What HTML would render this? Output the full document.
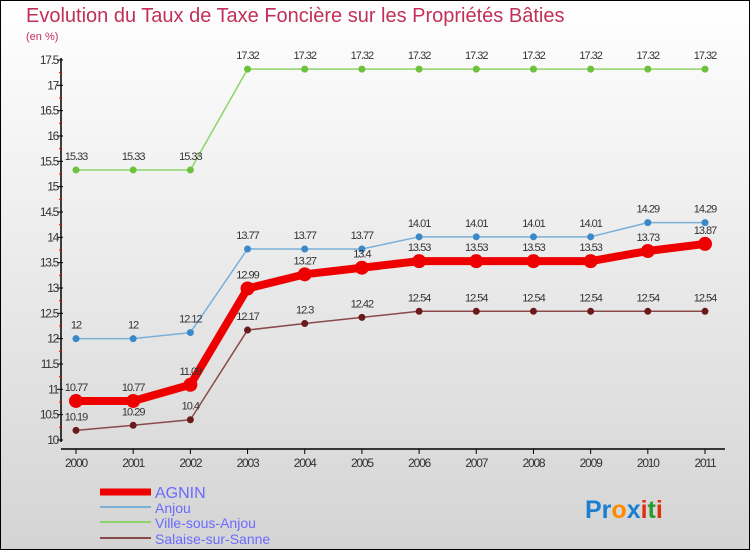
<!DOCTYPE html>
<html><head><meta charset="utf-8"><style>
body{margin:0}
#c{width:750px;height:550px;position:relative;font-family:"Liberation Sans",sans-serif}
svg{position:absolute;left:0;top:0}
</style></head><body>
<div id="c">
<svg id="s" width="750" height="550" xmlns="http://www.w3.org/2000/svg">
<defs><linearGradient id="bg" x1="0" y1="0" x2="0" y2="1"><stop offset="0" stop-color="#ffffff"/><stop offset="1" stop-color="#d4d4d4"/></linearGradient></defs>
<rect x="0.5" y="0.5" width="749" height="549" fill="url(#bg)" stroke="#000"/>
<text x="26" y="22" font-size="20" fill="#c0305a">Evolution du Taux de Taxe Foncière sur les Propriétés Bâties</text>
<text x="26" y="40" font-size="11" fill="#c0305a">(en %)</text>
<g id="axes"></g><g id="series"></g><g id="legend"></g>
<text x="585" y="518" font-size="25" font-weight="bold"><tspan fill="#1a7fd0">Pr</tspan><tspan fill="#ff8a00">o</tspan><tspan fill="#1a7fd0">x</tspan><tspan fill="#e03010">i</tspan><tspan fill="#2a9a2a">t</tspan><tspan fill="#e03010">i</tspan></text>
</svg></div>
<script>
const years=[2000,2001,2002,2003,2004,2005,2006,2007,2008,2009,2010,2011];
const yTicks=[10,10.5,11,11.5,12,12.5,13,13.5,14,14.5,15,15.5,16,16.5,17,17.5];
const agnin=[10.77,10.77,11.09,12.99,13.27,13.4,13.53,13.53,13.53,13.53,13.73,13.87];
const anjou=[12,12,12.12,13.77,13.77,13.77,14.01,14.01,14.01,14.01,14.29,14.29];
const ville=[15.33,15.33,15.33,17.32,17.32,17.32,17.32,17.32,17.32,17.32,17.32,17.32];
const salaise=[10.19,10.29,10.4,12.17,12.3,12.42,12.54,12.54,12.54,12.54,12.54,12.54];
const names=["AGNIN","Anjou","Ville-sous-Anjou","Salaise-sur-Sanne"];
const NS="http://www.w3.org/2000/svg";
const X=i=>76+i*(705-76)/11;
const Y=v=>440-(v-10)*(380/7.5);
function mk(tag,attrs,parent,txt){const e=document.createElementNS(NS,tag);for(const k in attrs)e.setAttribute(k,attrs[k]);if(txt!==undefined)e.textContent=txt;parent.appendChild(e);return e;}
const ax=document.getElementById('axes');
let e=mk('line',{x1:61,y1:58,x2:61,y2:442,stroke:'#000','stroke-width':1.5},ax);


e=mk('line',{x1:61,y1:449,x2:725,y2:449,stroke:'#000','stroke-width':1.5},ax);


yTicks.forEach((v,i)=>{
 mk('line',{x1:57,y1:Y(v),x2:63,y2:Y(v),stroke:'#000'},ax);
 if(i<yTicks.length-1)mk('line',{x1:59,y1:Y(v+0.25),x2:62,y2:Y(v+0.25),stroke:'#e00'},ax);
 e=mk('text',{x:58,y:Y(v)+4,'font-size':12,'text-anchor':'end',fill:'#333','letter-spacing':'-1.3'},ax,String(v));
 
 
});
years.forEach((y,i)=>{
 mk('line',{x1:X(i),y1:449,x2:X(i),y2:454,stroke:'#000'},ax);
 e=mk('text',{x:X(i),y:467,'font-size':12,'text-anchor':'middle',fill:'#333','letter-spacing':'-1.2'},ax,String(y));
 
 
});
const sg=document.getElementById('series');
function series(data,color,w,r,dot,name){
 const g=mk('g',{},sg);
 
 
 const l=mk('polyline',{points:data.map((v,i)=>X(i)+','+Y(v)).join(' '),fill:'none',stroke:color,'stroke-width':w,'stroke-linejoin':'round'},g);
 
 
 data.forEach((v,i)=>{
  const c=mk('circle',{cx:X(i),cy:Y(v),r:r,fill:dot},g);
  
  
  const t=mk('text',{x:X(i),y:Y(v)-10,'font-size':11,'text-anchor':'middle',fill:'#333','letter-spacing':'-1'},g,String(v));
  
  
 });
}
series(ville,'#8fd46a',1.5,3.5,'#6cc23a','ville-sous-anjou');
series(anjou,'#7ab0d8',1.5,3.5,'#3a88c8','anjou');
series(salaise,'#8a4a4a',1.5,3.5,'#6a1a1a','salaise-sur-sanne');
series(agnin,'#ee0000',8,7,'#ee0000','agnin');
const lg=document.getElementById('legend');
const lc=['#ee0000','#7ab0d8','#8fd46a','#8a4a4a'],lw=[7,2,2,2],ly=[492,507,522,538];
names.forEach((n,i)=>{
 const g=mk('g',{},lg);
 
 
 mk('line',{x1:100,y1:ly[i],x2:151,y2:ly[i],stroke:lc[i],'stroke-width':lw[i]},g);
 mk('text',{x:155,y:ly[i]+6,'font-size':i==0?16:14,fill:'#6a6aff'},g,n);
});
</script>
</body></html>
